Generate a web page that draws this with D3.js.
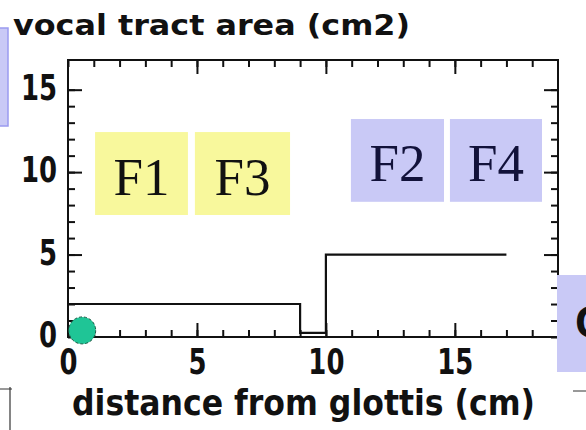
<!DOCTYPE html>
<html>
<head>
<meta charset="utf-8">
<script src="https://cdn.jsdelivr.net/npm/d3@7"></script>
<style>
  html, body { margin: 0; padding: 0; background: #ffffff; }
  svg { display: block; }
</style>
</head>
<body>
<svg id="chart" width="586" height="430"></svg>
<script>
// ---------- data ----------
const xTickLabels = [0, 5, 10, 15];
const yTickLabels = [0, 5, 10, 15];
const xMinorTicks = d3.range(0, 19);   // 0..18 cm
const yMinorTicks = d3.range(0, 16);   // 0..15 cm2

// vocal tract sections: start (cm), end (cm), area (cm2)
const sectionStart = [0, 9, 10];
const sectionEnd   = [9, 10, 17];
const sectionArea  = [2, 0.25, 5];

// glottis marker (distance cm, area cm2)
const glottisDistance = [0.55];
const glottisArea = [0.4];

// formant labels and their boxes in data units
const formantNames = ["F1", "F3", "F2", "F4"];
const formantX0 = [1.05, 4.92, 10.97, 14.81];
const formantX1 = [4.65, 8.61, 14.58, 18.38];
const formantY0 = [7.4, 7.4, 8.2, 8.2];
const formantY1 = [12.43, 12.43, 13.22, 13.22];
const formantGroup = ["odd", "odd", "even", "even"];

const titleText = "vocal tract area (cm2)";
const xTitleText = "distance from glottis (cm)";

// ---------- layout ----------
const svg = d3.select("#chart");
const mLeft = 68, mRight = 558, mTop = 60, mBottom = 337;

const x = d3.scaleLinear().domain([0, 19]).range([mLeft, mRight]);
const y = d3.scaleLinear().domain([0, 16.8]).range([mBottom, mTop]);

const boxFill = { odd: "#f8f89c", even: "#c9c9f6" };

// formant boxes
const formants = formantNames.map((n, i) => ({
  name: n, x0: formantX0[i], x1: formantX1[i], y0: formantY0[i], y1: formantY1[i], g: formantGroup[i]
}));
const fg = svg.append("g");
fg.selectAll("rect").data(formants).join("rect")
  .attr("x", d => x(d.x0))
  .attr("y", d => y(d.y1))
  .attr("width", d => x(d.x1) - x(d.x0))
  .attr("height", d => y(d.y0) - y(d.y1))
  .attr("fill", d => boxFill[d.g]);
fg.selectAll("text").data(formants).join("text")
  .attr("x", d => (x(d.x0) + x(d.x1)) / 2)
  .attr("y", d => (y(d.y0) + y(d.y1)) / 2 + 21)
  .attr("text-anchor", "middle")
  .attr("font-family", "'Liberation Serif', 'Times New Roman', serif")
  .attr("font-size", 53)
  .attr("fill", d => d.g === "even" ? "#12123a" : "#111111")
  .text(d => d.name);

// minor / major ticks (inward)
function tickAxis(axisFn, pos, values, size) {
  const g = svg.append("g").attr("transform", pos)
    .call(axisFn.tickValues(values).tickSize(size).tickFormat(""));
  g.select(".domain").remove();
  g.selectAll("line").attr("stroke", "#111").attr("stroke-width", 2);
  return g;
}
const major = [5, 10, 15];
tickAxis(d3.axisBottom(x), `translate(0,${mBottom})`, xMinorTicks, -7);
tickAxis(d3.axisBottom(x), `translate(0,${mBottom})`, major, -14);
tickAxis(d3.axisTop(x), `translate(0,${mTop})`, xMinorTicks, -7);
tickAxis(d3.axisTop(x), `translate(0,${mTop})`, major, -14);
tickAxis(d3.axisLeft(y), `translate(${mLeft},0)`, yMinorTicks, -7);
tickAxis(d3.axisLeft(y), `translate(${mLeft},0)`, major, -14);
tickAxis(d3.axisRight(y), `translate(${mRight},0)`, yMinorTicks, -7);
tickAxis(d3.axisRight(y), `translate(${mRight},0)`, major, -14);

// frame
svg.append("rect")
  .attr("x", x(0)).attr("y", y(16.8))
  .attr("width", x(19) - x(0)).attr("height", y(0) - y(16.8))
  .attr("fill", "none").attr("stroke", "#111").attr("stroke-width", 2);

// tick labels
const sx = 0.72;
const labelFont = "'DejaVu Sans', sans-serif";
const gxl = svg.append("g").attr("transform", `translate(0,${mBottom})`)
  .call(d3.axisBottom(x).tickValues(xTickLabels).tickSize(0).tickPadding(0).tickFormat(d3.format("d")));
gxl.select(".domain").remove();
gxl.selectAll("text")
  .attr("y", 37).attr("dy", null)
  .attr("font-family", labelFont).attr("font-weight", "bold").attr("font-size", 36)
  .attr("fill", "#111")
  .attr("transform", `scale(${sx},1)`);

const gyl = svg.append("g").attr("transform", `translate(${mLeft},0)`)
  .call(d3.axisLeft(y).tickValues(yTickLabels).tickSize(0).tickPadding(0).tickFormat(d3.format("d")));
gyl.select(".domain").remove();
gyl.selectAll("text")
  .attr("x", -11 / sx).attr("y", 9.5).attr("dy", null)
  .attr("font-family", labelFont).attr("font-weight", "bold").attr("font-size", 36)
  .attr("fill", "#111")
  .attr("transform", `scale(${sx},1)`);

// step line of vocal tract area
const pts = sectionStart.map((s, i) => [s, sectionArea[i]]);
pts.push([sectionEnd[sectionEnd.length - 1], sectionArea[sectionArea.length - 1]]);
const line = d3.line().x(d => x(d[0])).y(d => y(d[1])).curve(d3.curveStepAfter);
svg.append("path").attr("d", line(pts))
  .attr("fill", "none").attr("stroke", "#111").attr("stroke-width", 2.2);

// glottis marker
svg.selectAll("circle.glottis").data(glottisDistance.map((d, i) => [d, glottisArea[i]]))
  .join("circle").attr("class", "glottis")
  .attr("cx", d => x(d[0])).attr("cy", d => y(d[1])).attr("r", 13.5)
  .attr("fill", "#1fc596").attr("stroke", "#1d5a45").attr("stroke-width", 1)
  .attr("stroke-dasharray", "3,2");

// titles
svg.append("text").attr("x", 13).attr("y", 35)
  .attr("font-family", labelFont).attr("font-weight", "bold").attr("font-size", 29)
  .attr("textLength", 397).attr("lengthAdjust", "spacingAndGlyphs")
  .attr("fill", "#111").text(titleText);
svg.append("text").attr("x", 72).attr("y", 415)
  .attr("font-family", labelFont).attr("font-weight", "bold").attr("font-size", 35)
  .attr("textLength", 463).attr("lengthAdjust", "spacingAndGlyphs")
  .attr("fill", "#111").text(xTitleText);

// slide fragments around the chart
svg.append("rect").attr("x", -2).attr("y", 28).attr("width", 10).attr("height", 98)
  .attr("fill", "#c9c9f6").attr("stroke", "#9a9af0").attr("stroke-width", 1.5);
svg.append("rect").attr("x", 557).attr("y", 275).attr("width", 30).attr("height", 97)
  .attr("fill", "#c9c9f6");
svg.append("text").attr("x", 575).attr("y", 338)
  .attr("font-family", "'Liberation Sans', Arial, sans-serif").attr("font-weight", "bold")
  .attr("font-size", 47).attr("fill", "#111").text("C");
svg.append("line").attr("x1", 0).attr("x2", 12).attr("y1", 389).attr("y2", 389)
  .attr("stroke", "#333").attr("stroke-width", 1);
svg.append("line").attr("x1", 10).attr("x2", 10).attr("y1", 387).attr("y2", 430)
  .attr("stroke", "#333").attr("stroke-width", 1.2);
svg.append("line").attr("x1", 573).attr("x2", 586).attr("y1", 391).attr("y2", 391)
  .attr("stroke", "#333").attr("stroke-width", 1);
</script>
</body>
</html>
